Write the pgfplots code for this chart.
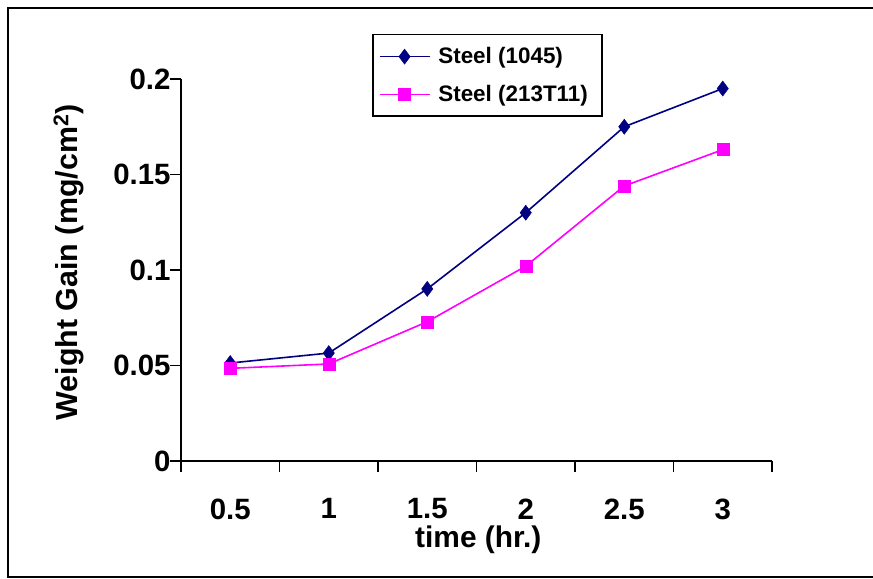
\documentclass[border=0pt]{standalone}
\usepackage{fontspec}
\setmainfont{Liberation Sans}
\usepackage{pgfplots}
\pgfplotsset{compat=1.18}
\definecolor{steelA}{RGB}{0,0,128}
\definecolor{steelB}{RGB}{255,0,255}
\begin{document}
\begin{tikzpicture}[x=1bp,y=1bp]
  \useasboundingbox (0,0) rectangle (873,579);
  % outer chart frame (right side cut off in the reference)
  \draw[line width=2.2bp] (880,571) -- (8,571) -- (8,2) -- (880,2);
  \begin{axis}[
      at={(181bp,118bp)}, anchor=south west,
      scale only axis,
      width=591bp, height=382bp,
      xmin=0, xmax=6, ymin=0, ymax=0.2,
      axis lines*=left,
      axis line style={line width=1.8bp, -},
      tick align=outside,
      major tick length=11bp,
      every tick/.style={black, line width=1.8bp},
      xtick={0,...,6},
      x tick label as interval,
      xticklabels={0.5,1,1.5,2,2.5,3},
      ytick={0,0.05,0.1,0.15,0.2},
      yticklabels={0,0.05,0.1,0.15,0.2},
      tick label style={font=\fontsize{29.5}{34}\selectfont\bfseries},
      xticklabel style={yshift=-23bp},
      yticklabel style={xshift=4bp},
      xlabel={time (hr.)},
      ylabel={Weight Gain (mg/cm\textsuperscript{2})},
      every axis x label/.style={at={(axis description cs:0.503,-0.207)}, anchor=center,
        font=\fontsize{30}{34}\selectfont\bfseries},
      every axis y label/.style={at={(axis description cs:-0.19,0.52)}, rotate=90, anchor=center,
        font=\fontsize{30.5}{34}\selectfont\bfseries},
      clip=false,
      legend style={at={(axis description cs:0.3232,1.1178)}, anchor=north west,
        draw=black, line width=1.5bp, font=\fontsize{22.5}{27}\selectfont\bfseries,
        inner xsep=6bp, inner ysep=11bp, row sep=16bp,
        cells={anchor=west}, nodes={inner xsep=8bp}},
      legend image code/.code={\draw[mark repeat=2,mark phase=2,#1,line width=1.6bp]
        plot coordinates {(0bp,0bp) (25bp,0bp) (50bp,0bp)};},
    ]
    \addplot[steelA, line width=1.6bp, mark=diamond*, mark size=7.5bp,
      mark options={solid, fill=steelA, line width=0.5bp}]
      coordinates {(0.5,0.0513) (1.5,0.0565) (2.5,0.0901) (3.5,0.1300) (4.5,0.1750) (5.5,0.1950)};
    \addplot[steelB, line width=1.6bp, mark=square*, mark size=6bp,
      mark options={solid, fill=steelB, line width=0.5bp}]
      coordinates {(0.5,0.0485) (1.5,0.0508) (2.5,0.0729) (3.5,0.1020) (4.5,0.1440) (5.5,0.1630)};
    \legend{Steel (1045), Steel (213T11)}
  \end{axis}
\end{tikzpicture}
\end{document}
